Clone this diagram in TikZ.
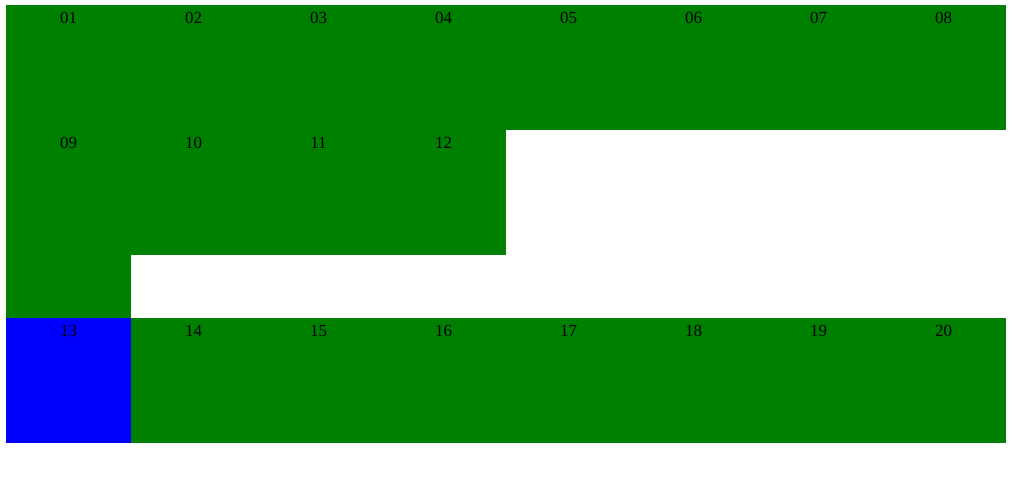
\documentclass[tikz,border=0pt]{standalone}
\usepackage{fontspec}
\setmainfont{Liberation Serif}
\definecolor{cellgreen}{HTML}{008000}
\definecolor{cellblue}{HTML}{0000FF}
\begin{document}
\begin{tikzpicture}[x=1pt,y=-1pt,
  cell/.style={draw=none,fill=cellgreen,inner sep=0pt,outer sep=0pt,minimum width=125pt,minimum height=125pt,anchor=north west},
  lab/.style={anchor=base,inner sep=0pt,font=\fontsize{17}{17}\selectfont,text=black}]
\useasboundingbox[fill=white] (0,0) rectangle (1012,498);
% row 1
\foreach \i [count=\k from 0] in {01,02,03,04,05,06,07,08}{
  \node[cell] (c\i) at ({6+125*\k},5) {};
  \node[lab] (t\i) at ({68.5+125*\k},23) {\i};
}
% row 2
\node[cell,minimum height=188pt] (c09) at (6,130) {};
\node[lab] (t09) at (68.5,148) {09};
\foreach \i [count=\k from 1] in {10,11,12}{
  \node[cell] (c\i) at ({6+125*\k},130) {};
  \node[lab] (t\i) at ({68.5+125*\k},148) {\i};
}
% row 3
\node[cell,fill=cellblue] (c13) at (6,318) {};
\node[lab] (t13) at (68.5,336) {13};
\foreach \i [count=\k from 1] in {14,15,16,17,18,19,20}{
  \node[cell] (c\i) at ({6+125*\k},318) {};
  \node[lab] (t\i) at ({68.5+125*\k},336) {\i};
}
\end{tikzpicture}
\end{document}
